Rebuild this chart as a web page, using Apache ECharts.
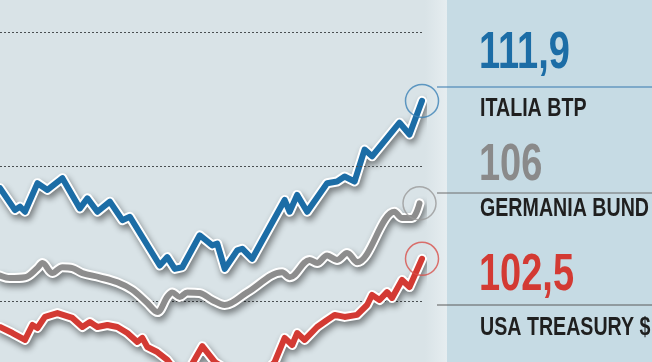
<!DOCTYPE html>
<html>
<head>
<meta charset="utf-8">
<script src="https://cdn.jsdelivr.net/npm/echarts@6/dist/echarts.min.js"></script>
<style>
html,body{margin:0;padding:0;background:#d9e3e7;}
#c{width:652px;height:362px;}
</style>
</head>
<body>
<div id="c"></div>
<script>
// Day index (x) and index value (y)
const italiaBtp = [
  [0,106.7],[6,105.4],[8,105.6],[10,105.3],[15,107.0],[19,106.6],[25,107.3],[32,105.5],
  [35,106.1],[39,105.3],[44,105.9],[49,104.8],[52,105.0],[64,102.1],[67,102.6],[70,101.9],
  [73,102.0],[80,103.9],[85,103.3],[87,103.4],[90,101.9],[95,103.0],[97,103.1],[101,102.5],
  [114,106.0],[116,105.3],[119,106.3],[123,105.3],[131,107.0],[135,107.1],[138,107.4],
  [142,107.1],[146,109.0],[149,108.6],[160,110.6],[164,109.9],[169,111.9]
];
const germaniaBund = [
  [0,101.5],[4,101.35],[10,101.4],[15,101.95],[17,102.25],[21,101.65],[25,102.0],[29,101.95],
  [33,101.65],[40,101.4],[47,101.1],[53,100.65],[59,99.87],[63,99.33],[67,100.23],[69,100.5],
  [72,100.23],[75,100.5],[80,100.46],[85,100.05],[90,99.75],[99,100.5],[113,101.7],[116,101.4],
  [124,102.43],[127,102.25],[131,102.7],[135,102.43],[139,102.85],[143,102.3],[158,105.3],
  [161,104.93],[165,104.93],[168,105.8]
];
const usaTreasury = [
  [0,98.44],[5,98.08],[10,97.67],[13,98.56],[15,98.38],[18,99.04],[23,99.27],[29,98.98],
  [33,98.44],[36,98.74],[39,98.44],[43,98.56],[47,98.44],[51,98.08],[55,97.55],[57,97.79],
  [59,97.25],[63,96.95],[67,96.48],[70,95.9],[76,96.0],[81,97.3],[86,96.36],[94,95.6],
  [104,95.4],[110,96.36],[114,97.79],[117,97.37],[119,98.08],[122,97.67],[127,98.44],
  [131,98.86],[134,99.16],[138,99.04],[143,99.16],[147,99.75],[149,100.35],[152,100.05],
  [155,100.52],[157,100.17],[161,101.24],[164,100.82],[169,102.5]
];
const gridValues = [100, 108, 116];
const names = ['ITALIA BTP', 'GERMANIA BUND', 'USA TREASURY $'];
const lastLabels = ['111,9', '106', '102,5'];

const colors = ['#1c6da6', '#8d8d8d', '#d33a33'];
const labelColors = ['#1c6da6', '#8a8a8a', '#d33a33'];
const ringColors = ['#3c82b6', '#9a9a9a', '#d8504b'];
const seriesData = [italiaBtp, germaniaBund, usaTreasury];
const smoothing = [0, 0.35, 0];

const chart = echarts.init(document.getElementById('c'), null, {renderer:'canvas'});

const series = [];
series.push({
  type:'line', data:[], z:1, silent:true,
  markLine:{
    silent:true, symbol:'none', label:{show:false},
    lineStyle:{color:'#4a4f52', type:[2,2], width:1},
    data: gridValues.map(v => ({yAxis:v}))
  }
});
seriesData.forEach((d, i) => {
  series.push({
    type:'line', data:d, showSymbol:false, smooth:smoothing[i], z:3+i*2, silent:true, clip:false,
    lineStyle:{color:'#ffffff', width:10, cap:'round', join:'round',
      shadowColor:'rgba(0,0,0,0.45)', shadowBlur:6, shadowOffsetX:2, shadowOffsetY:4}
  });
  series.push({
    type:'line', data:d, showSymbol:false, smooth:smoothing[i], z:4+i*2, silent:true, clip:false,
    lineStyle:{color:colors[i], width:6, cap:'round', join:'round'}
  });
  series.push({
    type:'scatter', data:[d[d.length-1]], symbol:'circle', symbolSize:33, z:10, silent:true, clip:false,
    itemStyle:{color:'rgba(0,0,0,0)', borderColor:ringColors[i], borderWidth:1.5}
  });
});

const textFont = '"Liberation Sans", Arial, sans-serif';
const graphic = [
  {type:'rect', shape:{x:425,y:0,width:22,height:362}, z:-1, silent:true,
   style:{fill:new echarts.graphic.LinearGradient(0,0,1,0,[{offset:0,color:'#d9e3e7'},{offset:1,color:'#e6edf0'}])}},
  {type:'rect', shape:{x:447,y:0,width:205,height:362}, z:-1, silent:true, style:{fill:'#c6dbe4'}},
  {type:'line', shape:{x1:437,y1:87,x2:652,y2:87}, style:{stroke:'#3478ad', lineWidth:1.2}, silent:true},
  {type:'line', shape:{x1:437,y1:193,x2:652,y2:193}, style:{stroke:'#6c6c6c', lineWidth:1}, silent:true},
  {type:'line', shape:{x1:437,y1:305,x2:652,y2:305}, style:{stroke:'#5a5a5a', lineWidth:1}, silent:true}
];
const valueMid = [54, 166, 276];
const nameMid = [109, 209, 328];
lastLabels.forEach((t, i) => {
  graphic.push({type:'text', x:479, y:valueMid[i], scaleX:0.73, silent:true,
    style:{text:t, fill:labelColors[i], font:'bold 52px ' + textFont, verticalAlign:'middle'}});
  graphic.push({type:'text', x:480, y:nameMid[i], scaleX:0.785, silent:true,
    style:{text:names[i], fill:'#1f1f1f', font:'bold 25px ' + textFont, verticalAlign:'middle'}});
});

const pxPerUnit = 16.8;
chart.setOption({
  backgroundColor:'#d9e3e7',
  animation:false,
  grid:{left:0, top:32, width:422, bottom:0, containLabel:false},
  xAxis:{type:'value', min:0, max:169, show:false},
  yAxis:{type:'value', min:116 - 330 / pxPerUnit, max:116, show:false, splitLine:{show:false}},
  series:series,
  graphic:graphic
});
</script>
</body>
</html>
